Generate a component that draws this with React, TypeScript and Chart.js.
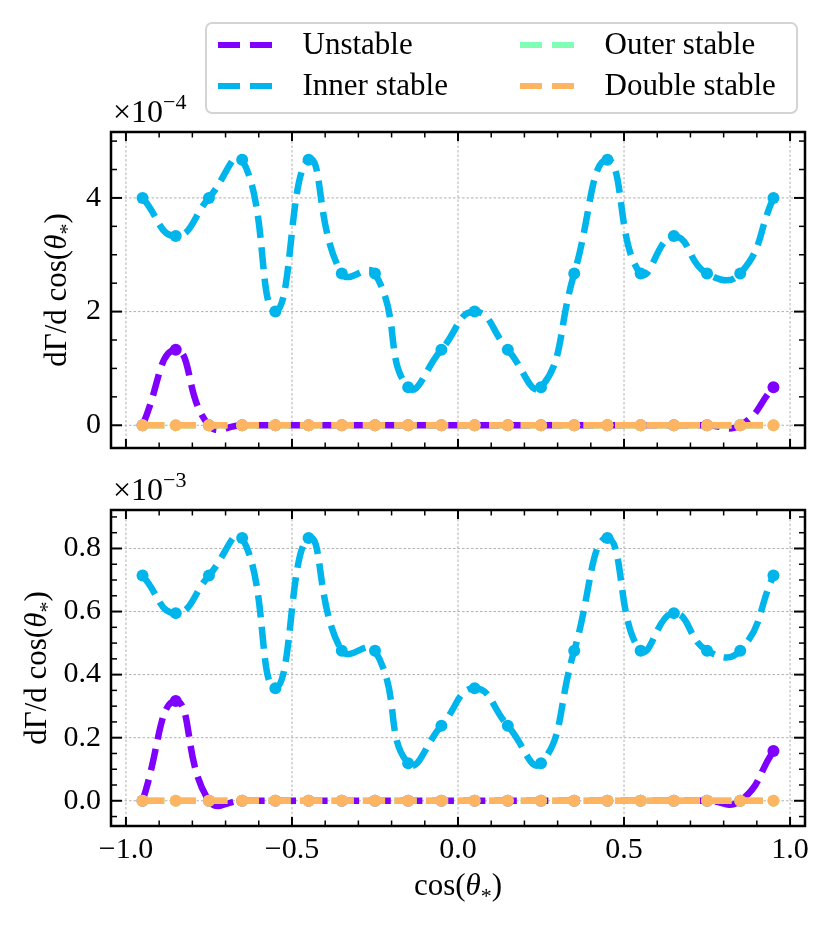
import { useEffect, useRef } from "react";
import { Chart, registerables } from "chart.js";

Chart.register(...registerables);

const FONT = '"Liberation Serif", "Times New Roman", serif';

const cosTheta = [
  -0.95, -0.85, -0.75, -0.65, -0.55, -0.45, -0.35, -0.25, -0.15, -0.05,
  0.05, 0.15, 0.25, 0.35, 0.45, 0.55, 0.65, 0.75, 0.85, 0.95,
];

// upper panel, values in units of 1e-4
const unstableTop = [0, 1.33, 0, 0, 0, 0, 0, 0, 0, 0, 0, 0, 0, 0, 0, 0, 0, 0, 0, 0.67];
const innerTop = [4.0, 3.33, 4.0, 4.67, 2.0, 4.67, 2.67, 2.67, 0.67, 1.33, 2.0, 1.33, 0.67, 2.67, 4.67, 2.67, 3.33, 2.67, 2.67, 4.0];
const outerTop = [0, 0, 0, 0, 0, 0, 0, 0, 0, 0, 0, 0, 0, 0, 0, 0, 0, 0, 0, 0];
const doubleTop = [0, 0, 0, 0, 0, 0, 0, 0, 0, 0, 0, 0, 0, 0, 0, 0, 0, 0, 0, 0];

// lower panel, values in units of 1e-3
const unstableBottom = [0, 0.316, 0, 0, 0, 0, 0, 0, 0, 0, 0, 0, 0, 0, 0, 0, 0, 0, 0, 0.158];
const innerBottom = [0.714, 0.595, 0.714, 0.833, 0.357, 0.833, 0.476, 0.476, 0.119, 0.238, 0.357, 0.238, 0.119, 0.476, 0.833, 0.476, 0.595, 0.476, 0.476, 0.714];
const outerBottom = [0, 0, 0, 0, 0, 0, 0, 0, 0, 0, 0, 0, 0, 0, 0, 0, 0, 0, 0, 0];
const doubleBottom = [0, 0, 0, 0, 0, 0, 0, 0, 0, 0, 0, 0, 0, 0, 0, 0, 0, 0, 0, 0];

const xTickValues = [-1.0, -0.5, 0.0, 0.5, 1.0];
const topYTickValues = [0, 2, 4];
const bottomYTickValues = [0, 0.2, 0.4, 0.6, 0.8];

const seriesNames = ["Unstable", "Inner stable", "Outer stable", "Double stable"];
const seriesColors = ["#8000ff", "#00b4ec", "#80ffb4", "#ffb462"];

type Part = { t: string; size: number; italic?: boolean; dy?: number };

const yTitle: Part[] = [
  { t: "dΓ/d cos(", size: 31 },
  { t: "θ", size: 31, italic: true },
  { t: "*", size: 22, dy: 8 },
  { t: ")", size: 31 },
];
const xTitle: Part[] = [
  { t: "cos(", size: 31 },
  { t: "θ", size: 31, italic: true },
  { t: "*", size: 22, dy: 8 },
  { t: ")", size: 31 },
];

function drawParts(ctx: CanvasRenderingContext2D, parts: Part[], x: number, y: number, center: boolean) {
  const font = (p: Part) => `${p.italic ? "italic " : ""}${p.size}px ${FONT}`;
  const widths = parts.map((p) => {
    ctx.font = font(p);
    return ctx.measureText(p.t).width;
  });
  const total = widths.reduce((a, b) => a + b, 0);
  let cx = center ? x - total / 2 : x;
  ctx.textAlign = "left";
  ctx.textBaseline = "alphabetic";
  parts.forEach((p, i) => {
    ctx.font = font(p);
    ctx.fillText(p.t, cx, y + (p.dy || 0));
    cx += widths[i];
  });
}

function stepsIn(min: number, max: number, step: number) {
  const out: number[] = [];
  for (let i = Math.ceil(min / step - 1e-9); i * step <= max + 1e-9; i++) out.push(+(i * step).toFixed(6));
  return out;
}

type PanelCfg = {
  series: number[][];
  yMin: number;
  yMax: number;
  yTicks: number[];
  yMinorStep: number;
  yFmt: (v: number) => string;
  exponent: string;
  offsetBaseline: number;
  yTitlePos: [number, number];
  showX: boolean;
  padding: { top: number; right: number; bottom: number; left: number };
  xAxisHeight: number;
  height: number;
  top: number;
};

const fmtX = (v: number) => (v < 0 ? "−" + Math.abs(v).toFixed(1) : v.toFixed(1));

function decorPlugin(cfg: PanelCfg) {
  return {
    id: "decor",
    beforeDatasetsDraw(chart: any) {
      const { ctx, chartArea: a, scales } = chart;
      ctx.save();
      ctx.strokeStyle = "#b0b0b0";
      ctx.lineWidth = 1;
      ctx.setLineDash([2.5, 2]);
      for (const v of xTickValues) {
        const px = scales.x.getPixelForValue(v);
        ctx.beginPath();
        ctx.moveTo(px, a.top);
        ctx.lineTo(px, a.bottom);
        ctx.stroke();
      }
      for (const v of cfg.yTicks) {
        const py = scales.y.getPixelForValue(v);
        ctx.beginPath();
        ctx.moveTo(a.left, py);
        ctx.lineTo(a.right, py);
        ctx.stroke();
      }
      ctx.restore();
    },
    afterDatasetsDraw(chart: any) {
      const { ctx, chartArea: a, scales } = chart;
      ctx.save();
      ctx.strokeStyle = "#000";
      ctx.setLineDash([]);
      const seg = (x1: number, y1: number, x2: number, y2: number, w: number) => {
        ctx.lineWidth = w;
        ctx.beginPath();
        ctx.moveTo(x1, y1);
        ctx.lineTo(x2, y2);
        ctx.stroke();
      };
      for (const v of stepsIn(scales.x.min, scales.x.max, 0.1)) {
        const major = xTickValues.some((m) => Math.abs(m - v) < 1e-6);
        const len = major ? 9 : 5.5;
        const w = major ? 2 : 1.5;
        const px = scales.x.getPixelForValue(v);
        seg(px, a.bottom, px, a.bottom - len, w);
        seg(px, a.top, px, a.top + len, w);
      }
      for (const v of stepsIn(scales.y.min, scales.y.max, cfg.yMinorStep)) {
        const major = cfg.yTicks.some((m) => Math.abs(m - v) < 1e-6);
        const len = major ? 11 : 6;
        const w = major ? 2 : 1.5;
        const py = scales.y.getPixelForValue(v);
        seg(a.left, py, a.left + len, py, w);
        seg(a.right, py, a.right - len, py, w);
      }
      ctx.lineWidth = 2.5;
      ctx.strokeRect(a.left, a.top, a.right - a.left, a.bottom - a.top);
      ctx.restore();
    },
    afterDraw(chart: any) {
      const { ctx, chartArea: a } = chart;
      ctx.save();
      ctx.fillStyle = "#000";
      drawParts(
        ctx,
        [
          { t: "×10", size: 32 },
          { t: cfg.exponent, size: 22, dy: -13 },
        ],
        a.left + 2,
        cfg.offsetBaseline,
        false
      );
      ctx.save();
      ctx.translate(cfg.yTitlePos[0], cfg.yTitlePos[1]);
      ctx.rotate(-Math.PI / 2);
      drawParts(ctx, yTitle, 0, 10, true);
      ctx.restore();
      if (cfg.showX) {
        drawParts(ctx, xTitle, (a.left + a.right) / 2, cfg.height - 31, true);
      }
      ctx.restore();
    },
  };
}

function buildConfig(cfg: PanelCfg): any {
  const order = [4, 3, 2, 1];
  return {
    type: "line",
    data: {
      datasets: cfg.series.map((vals, k) => ({
        label: seriesNames[k],
        data: cosTheta.map((x, i) => ({ x, y: vals[i] })),
        borderColor: seriesColors[k],
        backgroundColor: seriesColors[k],
        borderWidth: 6.5,
        borderDash: [22, 9.5],
        tension: 0.5,
        fill: false,
        pointRadius: 6,
        pointBorderWidth: 0,
        pointBackgroundColor: seriesColors[k],
        order: order[k],
      })),
    },
    options: {
      responsive: false,
      animation: false,
      events: [],
      layout: { padding: cfg.padding },
      plugins: { legend: { display: false }, tooltip: { enabled: false } },
      scales: {
        x: {
          type: "linear",
          min: -1.045,
          max: 1.045,
          afterBuildTicks: (axis: any) => {
            axis.ticks = xTickValues.map((value) => ({ value }));
          },
          afterFit: (axis: any) => {
            axis.height = cfg.xAxisHeight;
            axis.paddingLeft = 0;
            axis.paddingRight = 0;
          },
          grid: { display: false, drawTicks: false },
          border: { display: false },
          ticks: {
            display: cfg.showX,
            autoSkip: false,
            maxRotation: 0,
            padding: 6,
            color: "#000",
            font: { family: FONT, size: 30 },
            callback: (v: number) => fmtX(v),
          },
        },
        y: {
          type: "linear",
          min: cfg.yMin,
          max: cfg.yMax,
          afterBuildTicks: (axis: any) => {
            axis.ticks = cfg.yTicks.map((value) => ({ value }));
          },
          afterFit: (axis: any) => {
            axis.width = 111;
            axis.paddingTop = 0;
            axis.paddingBottom = 0;
          },
          grid: { display: false, drawTicks: false },
          border: { display: false },
          ticks: {
            autoSkip: false,
            padding: 10,
            color: "#000",
            font: { family: FONT, size: 30 },
            callback: (v: number) => cfg.yFmt(v),
          },
        },
      },
    },
    plugins: [decorPlugin(cfg)],
  };
}

const topPanel: PanelCfg = {
  series: [unstableTop, innerTop, outerTop, doubleTop],
  yMin: -0.4,
  yMax: 5.16,
  yTicks: topYTickValues,
  yMinorStep: 0.5,
  yFmt: (v) => String(Math.round(v)),
  exponent: "−4",
  offsetBaseline: 122,
  yTitlePos: [56, 290],
  showX: false,
  padding: { top: 132, right: 25, bottom: 22, left: 0 },
  xAxisHeight: 0,
  height: 470,
  top: 0,
};

const bottomPanel: PanelCfg = {
  series: [unstableBottom, innerBottom, outerBottom, doubleBottom],
  yMin: -0.08,
  yMax: 0.922,
  yTicks: bottomYTickValues,
  yMinorStep: 0.05,
  yFmt: (v) => v.toFixed(1),
  exponent: "−3",
  offsetBaseline: 30,
  yTitlePos: [36, 198],
  showX: true,
  padding: { top: 40, right: 25, bottom: 0, left: 0 },
  xAxisHeight: 100,
  height: 456,
  top: 470,
};

function Panel({ cfg }: { cfg: PanelCfg }) {
  const canvasRef = useRef<HTMLCanvasElement>(null);
  useEffect(() => {
    if (!canvasRef.current) return;
    const chart = new Chart(canvasRef.current, buildConfig(cfg));
    return () => chart.destroy();
  }, [cfg]);
  return (
    <canvas
      ref={canvasRef}
      width={830}
      height={cfg.height}
      style={{ position: "absolute", left: 0, top: cfg.top, width: 830, height: cfg.height, display: "block" }}
    />
  );
}

function LegendEntry({ name, color, left, top }: { name: string; color: string; left: number; top: number }) {
  const dash = { position: "absolute" as const, top: -3, width: 22, height: 6.5, background: color };
  return (
    <div style={{ position: "absolute", left, top }}>
      <span style={{ ...dash, left: 0 }} />
      <span style={{ ...dash, left: 32 }} />
      <span
        style={{
          position: "absolute",
          left: 85,
          top: -18,
          whiteSpace: "nowrap",
          fontFamily: FONT,
          fontSize: 31,
          lineHeight: "34px",
          color: "#000",
        }}
      >
        {name}
      </span>
    </div>
  );
}

export default function App() {
  const cols = [10.5, 312.5];
  const rows = [20.5, 61.5];
  return (
    <div style={{ position: "absolute", left: 0, top: 0, width: 830, height: 926, background: "#fff", overflow: "hidden" }}>
      <Panel cfg={topPanel} />
      <Panel cfg={bottomPanel} />
      <div
        style={{
          position: "absolute",
          left: 205,
          top: 22,
          width: 593,
          height: 92,
          boxSizing: "border-box",
          border: "2.5px solid #d4d4d4",
          borderRadius: 7,
          background: "rgba(255,255,255,0.8)",
        }}
      >
        {seriesNames.map((name, k) => (
          <LegendEntry key={name} name={name} color={seriesColors[k]} left={cols[Math.floor(k / 2)]} top={rows[k % 2]} />
        ))}
      </div>
    </div>
  );
}
